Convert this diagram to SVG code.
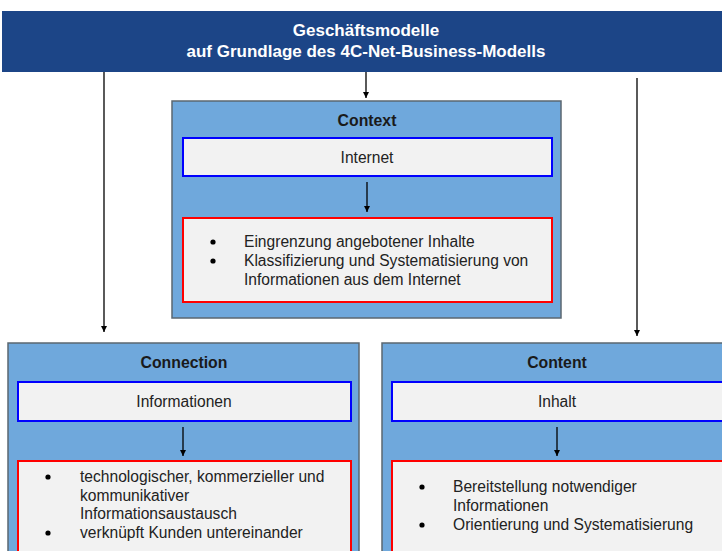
<svg xmlns="http://www.w3.org/2000/svg" width="722" height="551" viewBox="0 0 722 551">
  <defs>
    <marker id="arrow" viewBox="0 0 10 10" refX="10" refY="5" markerWidth="6" markerHeight="8" markerUnits="userSpaceOnUse" orient="auto">
      <path d="M0,0 L10,5 L0,10 z" fill="#000"/>
    </marker>
    <style>
      .hdr { fill: #1c4587; }
      .hdr-t { font-family: "Liberation Sans", Arial, sans-serif; font-size: 17px; font-weight: bold; fill: #ffffff; text-anchor: middle; }
      .outer { fill: #6fa8dc; stroke: #5b6770; stroke-width: 1.5; }
      .title { font-family: "Liberation Sans", Arial, sans-serif; font-size: 15.8px; font-weight: bold; fill: #1a1a1a; text-anchor: middle; }
      .blue { fill: #f2f2f2; stroke: #0000ff; stroke-width: 2; }
      .red { fill: #f2f2f2; stroke: #ff0000; stroke-width: 2; }
      .t { font-family: "Liberation Sans", Arial, sans-serif; font-size: 15.6px; fill: #222; }
      .c { text-anchor: middle; }
      .conn { stroke: #000; stroke-width: 1.3; fill: none; }
    </style>
  </defs>

  <rect width="722" height="551" fill="#ffffff"/>

  <!-- top banner -->
  <g id="header">
    <rect class="hdr" x="2" y="11" width="722" height="61"/>
    <text class="hdr-t" x="366" y="36">Geschäftsmodelle</text>
    <text class="hdr-t" x="366" y="57">auf Grundlage des 4C-Net-Business-Modells</text>
  </g>

  <!-- Context -->
  <g id="context">
    <rect class="outer" x="172" y="101" width="389" height="217"/>
    <text class="title" x="367" y="126">Context</text>
    <rect class="blue" x="183" y="138" width="369" height="38"/>
    <text class="t c" x="367" y="163">Internet</text>
    <rect class="red" x="183" y="218" width="369" height="84"/>
    <circle cx="213" cy="242" r="2.6" fill="#000"/>
    <circle cx="213" cy="261" r="2.6" fill="#000"/>
    <text class="t" x="244" y="247">Eingrenzung angebotener Inhalte</text>
    <text class="t" x="244" y="266">Klassifizierung und Systematisierung von</text>
    <text class="t" x="244" y="285">Informationen aus dem Internet</text>
  </g>

  <!-- Connection -->
  <g id="connection">
    <rect class="outer" x="8" y="343" width="351" height="215"/>
    <text class="title" x="184" y="368">Connection</text>
    <rect class="blue" x="18" y="382" width="333" height="39"/>
    <text class="t c" x="184" y="407">Informationen</text>
    <rect class="red" x="18" y="461" width="333" height="92"/>
    <circle cx="48" cy="477" r="2.6" fill="#000"/>
    <circle cx="48" cy="533" r="2.6" fill="#000"/>
    <text class="t" x="80" y="482">technologischer, kommerzieller und</text>
    <text class="t" x="80" y="501">kommunikativer</text>
    <text class="t" x="80" y="519">Informationsaustausch</text>
    <text class="t" x="80" y="538">verknüpft Kunden untereinander</text>
  </g>

  <!-- Content -->
  <g id="content">
    <rect class="outer" x="382" y="343" width="350" height="215"/>
    <text class="title" x="557" y="368">Content</text>
    <rect class="blue" x="392" y="382" width="340" height="39"/>
    <text class="t c" x="557" y="407">Inhalt</text>
    <rect class="red" x="392" y="461" width="340" height="92"/>
    <circle cx="422" cy="487" r="2.6" fill="#000"/>
    <circle cx="422" cy="525" r="2.6" fill="#000"/>
    <text class="t" x="453" y="492">Bereitstellung notwendiger</text>
    <text class="t" x="453" y="511">Informationen</text>
    <text class="t" x="453" y="530">Orientierung und Systematisierung</text>
  </g>

  <!-- connectors -->
  <g id="connectors">
    <line class="conn" x1="104" y1="72" x2="104" y2="332" marker-end="url(#arrow)"/>
    <line class="conn" x1="366" y1="72" x2="366" y2="98" marker-end="url(#arrow)"/>
    <line class="conn" x1="637" y1="78" x2="637" y2="336" marker-end="url(#arrow)"/>
    <line class="conn" x1="367" y1="182" x2="367" y2="212" marker-end="url(#arrow)"/>
    <line class="conn" x1="183" y1="427" x2="183" y2="456" marker-end="url(#arrow)"/>
    <line class="conn" x1="557" y1="427" x2="557" y2="456" marker-end="url(#arrow)"/>
  </g>
</svg>
